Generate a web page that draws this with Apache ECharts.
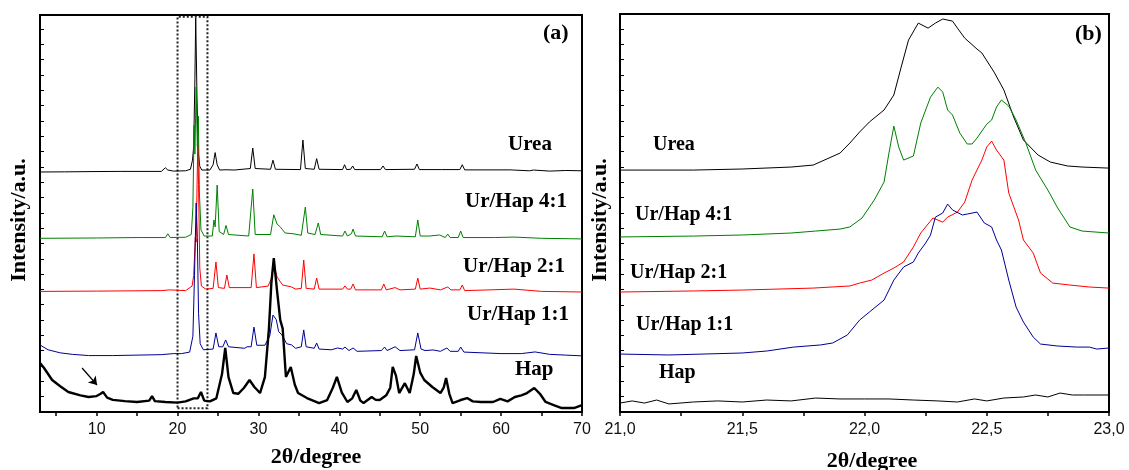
<!DOCTYPE html>
<html>
<head>
<meta charset="utf-8">
<script src="https://cdn.jsdelivr.net/npm/echarts@6/dist/echarts.min.js"></script>
<style>
html,body{margin:0;padding:0;background:#fff}
#chart{width:1129px;height:470px}
</style>
</head>
<body>
<div id="chart"></div>
<script>
// XRD patterns: (a) full 2θ scan, (b) detail of the 21–23° region.
// Intensities are in arbitrary units, each pattern shifted vertically.

const sampleNames = ['Urea', 'Ur/Hap 4:1', 'Ur/Hap 2:1', 'Ur/Hap 1:1', 'Hap'];
const sampleColors = ['#000000', '#008000', '#ff0000', '#000096', '#000000'];

// Panel (a) x tick labels and tick marks
const fullScanLabels = [10, 20, 30, 40, 50, 60, 70];
const fullScanTicks = [5, 10, 15, 20, 25, 30, 35, 40, 45, 50, 55, 60, 65, 70];
// Panel (b) x tick labels
const detailLabels = [21.0, 21.5, 22.0, 22.5, 23.0];
// window of panel (b) as outlined on panel (a)
const detailWindow = [20, 23.7];

// ---- panel (a): [2θ, intensity] ----
const ureaA = [[3,15.82],[6,15.83],[9.8,15.85],[10,15.8],[13,15.86],[18,15.86],[18.5,16.1],[18.8,15.95],[19.5,15.88],[21,15.9],[21.6,16.0],[21.85,16.6],[22.0,17.5],[22.15,22.0],[22.25,25.97],[22.4,21.0],[22.55,17.2],[22.75,16.2],[23,15.95],[24,15.95],[24.4,16.3],[24.65,17.1],[24.9,16.3],[25.2,15.95],[26,15.97],[27,15.95],[29,16.05],[29.3,17.4],[29.6,16.05],[31.5,16.0],[31.8,16.6],[32.1,16.0],[35.2,15.98],[35.5,17.93],[35.8,16.05],[36.9,16.0],[37.2,16.7],[37.5,16.0],[40.4,15.98],[40.65,16.3],[40.9,15.98],[41.4,16.0],[41.65,16.22],[41.9,15.98],[45.1,15.98],[45.4,16.22],[45.7,15.98],[49.3,16.0],[49.6,16.35],[49.9,15.98],[52.2,15.98],[52.4,16.1],[52.6,15.98],[54.9,15.98],[55.2,16.3],[55.5,15.96],[61.2,15.96],[61.35,16.05],[61.5,15.95],[63.5,15.9],[64,15.95],[66,15.88],[68,15.92],[70,15.9]];

const ur41A = [[3,11.45],[10,11.47],[15,11.5],[18.5,11.5],[18.8,11.75],[19.1,11.5],[21,11.52],[21.7,11.7],[21.9,13.5],[22.05,18.9],[22.15,17.0],[22.3,21.42],[22.45,17.5],[22.57,19.5],[22.7,14.5],[22.9,12.0],[23.3,11.6],[24.3,11.6],[24.5,12.66],[24.65,12.2],[24.9,14.96],[25.15,11.9],[25.7,11.7],[26.0,12.3],[26.3,11.7],[28.8,11.6],[29.3,14.7],[29.6,11.7],[31.5,11.7],[31.9,13.0],[32.3,12.4],[32.7,12.2],[33.3,11.8],[34.3,11.75],[35.3,11.65],[35.8,13.51],[36.1,11.8],[37.0,11.7],[37.4,12.46],[37.7,11.7],[40.4,11.6],[40.7,11.93],[41.0,11.6],[41.5,11.75],[41.7,12.06],[42.0,11.6],[45.3,11.55],[45.6,11.93],[45.9,11.55],[47,11.6],[49.4,11.55],[49.7,12.66],[50.0,11.6],[51.2,11.6],[52.4,11.67],[53.1,11.5],[53.4,11.73],[53.7,11.5],[54.7,11.5],[55.0,11.93],[55.3,11.5],[59.2,11.5],[61.6,11.53],[65,11.45],[70,11.41]];

const ur21A = [[3,7.95],[10,7.97],[18,8.0],[19,8.05],[21,8.0],[21.8,8.3],[22.0,9.0],[22.2,11.5],[22.3,11.2],[22.5,17.6],[22.6,15.0],[22.75,9.5],[22.95,8.3],[23.5,8.1],[24.4,8.15],[24.75,9.89],[25.05,8.2],[25.8,8.15],[26.1,9.03],[26.4,8.2],[29.1,8.2],[29.45,10.42],[29.75,8.2],[31.2,8.3],[31.6,8.8],[31.9,9.76],[32.3,8.9],[33.0,8.37],[34.1,8.24],[34.6,8.1],[35.3,8.15],[35.6,10.02],[35.9,8.15],[36.9,8.1],[37.2,8.83],[37.5,8.1],[40.4,8.1],[40.7,8.31],[41.0,8.1],[41.4,8.1],[41.7,8.44],[42.0,8.05],[45.2,8.05],[45.5,8.44],[45.8,8.05],[46.9,8.2],[47.5,8.05],[49.4,8.1],[49.7,8.83],[50.0,8.1],[51.2,8.17],[52.5,8.05],[53.4,8.24],[53.8,8.05],[54.9,8.05],[55.2,8.37],[55.5,8.0],[61.6,8.1],[65,7.95],[70,7.91]];

const ur11A = [[3,4.42],[4,4.1],[5.5,3.9],[7,3.8],[9,3.72],[12,3.72],[15,3.75],[18,3.78],[19.5,3.85],[20.5,3.85],[21.5,3.95],[21.9,5.0],[22.1,9.0],[22.3,13.78],[22.45,11.5],[22.6,6.5],[22.8,4.5],[23.2,4.1],[24.4,4.15],[24.75,5.21],[25.1,4.3],[25.6,4.3],[25.95,4.75],[26.3,4.3],[28.3,4.2],[28.6,4.3],[29.1,4.3],[29.45,5.6],[29.8,4.4],[30.8,4.4],[31.4,5.0],[31.8,6.39],[32.2,6.1],[32.5,5.3],[32.9,5.08],[33.5,4.5],[34.1,4.42],[34.6,4.2],[35.3,4.3],[35.6,5.41],[35.9,4.3],[36.9,4.2],[37.2,4.55],[37.5,4.15],[39.0,4.1],[39.8,4.22],[40.4,4.15],[40.7,4.28],[41.2,4.05],[41.7,4.22],[42.2,4.0],[45.2,4.05],[45.6,4.28],[45.9,4.05],[46.9,4.3],[47.5,4.05],[49.3,4.1],[49.7,5.21],[50.1,4.15],[50.6,4.05],[51.6,4.09],[52.5,4.0],[53.3,4.22],[53.7,4.0],[54.7,4.0],[55.0,4.28],[55.4,3.95],[60,3.85],[62.5,3.85],[64.2,3.96],[66,3.8],[68,3.75],[70,3.7]];

const hapA = [[3,3.23],[3.5,2.9],[4.5,2.11],[5.5,1.7],[6.5,1.32],[8,1.1],[9,0.99],[10,1.05],[10.5,1.2],[10.8,1.32],[11.3,0.95],[12,0.8],[13.5,0.72],[15,0.66],[16.5,0.75],[16.85,1.05],[17.2,0.72],[18.5,0.66],[20,0.62],[21,0.7],[22.0,0.9],[22.5,0.9],[22.9,1.32],[23.3,0.75],[24.0,0.7],[24.8,0.9],[25.5,2.5],[25.9,4.22],[26.3,2.3],[26.9,1.25],[27.5,1.2],[28.2,1.58],[28.9,2.11],[29.5,1.65],[30.2,1.25],[30.8,2.3],[31.3,5.5],[31.6,8.5],[31.9,10.15],[32.3,8.0],[32.7,6.06],[33.0,5.5],[33.4,2.31],[34.0,2.97],[34.5,1.8],[34.9,1.25],[36.0,0.92],[37.5,0.59],[38.5,0.79],[39.2,1.6],[39.7,2.31],[40.3,1.3],[41.0,0.66],[41.6,0.9],[42.1,1.45],[42.6,0.75],[43.0,0.59],[44.0,0.99],[44.5,0.8],[45.0,0.79],[45.8,1.1],[46.3,1.6],[46.6,2.97],[47.0,2.4],[47.4,1.25],[48.1,1.9],[48.7,1.25],[49.2,2.5],[49.5,3.69],[50.0,2.6],[50.5,2.11],[51.5,1.65],[52.5,1.25],[52.9,1.6],[53.2,2.24],[53.6,1.2],[54.0,0.59],[55.0,0.79],[55.8,0.92],[56.5,0.7],[57.5,0.66],[59,0.66],[59.9,0.86],[60.8,0.7],[61.7,0.99],[62.5,1.1],[63.2,1.25],[64.1,1.58],[64.8,1.2],[65.5,0.66],[66.5,0.46],[67.5,0.26],[69,0.26],[70,0.46]];

// arrow pointing at the weak Hap reflection near 10.8°
const hapArrow = [[8.2, 2.9], [10.05, 1.78]];

// ---- panel (b): [2θ, intensity] ----
const ureaB = [[21.0,15.95],[21.3,15.95],[21.5,16.02],[21.7,16.15],[21.79,16.28],[21.9,17.07],[21.94,17.73],[21.98,18.46],[22.02,19.12],[22.08,19.91],[22.12,20.9],[22.15,22.74],[22.18,24.52],[22.22,25.64],[22.26,25.31],[22.29,25.64],[22.32,25.91],[22.36,25.77],[22.38,25.31],[22.41,24.65],[22.46,23.93],[22.48,23.67],[22.53,22.41],[22.57,21.23],[22.61,19.45],[22.65,17.93],[22.71,16.94],[22.76,16.48],[22.83,16.22],[22.89,16.15],[23.0,16.08]];

const ur41B = [[21.0,11.54],[21.3,11.6],[21.5,11.67],[21.7,11.8],[21.8,11.93],[21.9,12.06],[21.94,12.2],[21.99,12.79],[22.04,13.98],[22.08,15.16],[22.1,17.07],[22.12,18.85],[22.14,17.47],[22.16,16.61],[22.2,16.88],[22.23,19.05],[22.27,20.76],[22.3,21.42],[22.32,21.09],[22.34,19.91],[22.36,19.58],[22.39,18.39],[22.42,17.67],[22.44,17.67],[22.46,18.06],[22.5,18.98],[22.52,19.25],[22.54,20.11],[22.56,20.57],[22.59,20.17],[22.62,19.25],[22.66,17.73],[22.7,15.95],[22.75,14.63],[22.79,13.45],[22.84,12.2],[22.89,11.93],[23.0,11.8]];

const ur21B = [[21.0,7.91],[21.3,7.98],[21.5,8.04],[21.79,8.17],[21.94,8.31],[21.98,8.5],[22.03,8.7],[22.08,9.16],[22.12,9.49],[22.16,9.89],[22.2,10.88],[22.23,11.8],[22.25,12.2],[22.28,12.79],[22.32,12.52],[22.34,12.85],[22.38,13.18],[22.41,13.84],[22.44,15.29],[22.48,16.61],[22.5,17.47],[22.52,17.86],[22.54,17.27],[22.57,16.61],[22.59,14.44],[22.63,12.66],[22.65,11.34],[22.69,10.48],[22.72,9.16],[22.77,8.5],[22.84,8.37],[22.92,8.24],[23.0,8.17]];

const ur11B = [[21.0,3.82],[21.2,3.76],[21.5,3.89],[21.6,4.02],[21.71,4.28],[21.82,4.42],[21.87,4.55],[21.93,5.08],[21.98,6.06],[22.02,6.59],[22.08,7.38],[22.12,8.7],[22.16,9.56],[22.2,9.89],[22.22,10.48],[22.25,11.14],[22.27,11.67],[22.29,12.85],[22.32,13.12],[22.34,13.71],[22.36,13.32],[22.4,12.99],[22.42,13.05],[22.46,13.18],[22.49,12.46],[22.52,12.2],[22.54,11.34],[22.56,10.68],[22.59,8.7],[22.62,6.92],[22.65,5.93],[22.69,4.94],[22.72,4.48],[22.79,4.35],[22.87,4.28],[22.92,4.28],[22.95,4.15],[23.0,4.22]];

const hapB = [[21.0,0.59],[21.05,0.73],[21.1,0.59],[21.15,0.79],[21.2,0.53],[21.3,0.66],[21.4,0.73],[21.5,0.66],[21.6,0.79],[21.7,0.73],[21.8,0.92],[21.9,0.86],[22.0,0.86],[22.1,0.86],[22.2,0.79],[22.3,0.73],[22.38,0.66],[22.45,0.86],[22.5,0.73],[22.57,0.92],[22.65,0.99],[22.7,1.12],[22.75,0.99],[22.8,1.25],[22.85,1.12],[22.9,1.12],[23.0,1.12]];

// ---- layout / style ----
const serif = '"Liberation Serif", "Times New Roman", serif';
const sans = '"Liberation Sans", Arial, sans-serif';
const yMaxA = 26.17, yMaxB = 26.24, yTickStep = 1.01;
const yTicks = [];
for (let k = 1; k * yTickStep < 26.1; k++) yTicks.push(+(k * yTickStep).toFixed(3));

function xAxisBase(gi) {
  return {
    gridIndex: gi, type: 'value',
    axisLine: { show: true, onZero: false, lineStyle: { color: '#000', width: 2 } },
    axisTick: { show: true, inside: false, length: 4, lineStyle: { color: '#000', width: 1.5 } },
    axisLabel: { fontFamily: sans, fontSize: 16, color: '#111', margin: 10 },
    splitLine: { show: false }
  };
}
function yAxisBase(gi, max) {
  return {
    gridIndex: gi, type: 'value', min: 0, max: max,
    axisLine: { show: true, onZero: false, lineStyle: { color: '#000', width: 2 } },
    axisTick: { show: true, inside: true, length: 4, customValues: yTicks, lineStyle: { color: '#000', width: 1 } },
    axisLabel: { show: false },
    splitLine: { show: false }
  };
}
function trace(idx, data, gi, width, extra) {
  return Object.assign({
    name: sampleNames[idx], type: 'line', xAxisIndex: gi, yAxisIndex: gi,
    data: data, showSymbol: false, symbol: 'none', silent: true,
    lineStyle: { color: sampleColors[idx], width: width },
    itemStyle: { color: sampleColors[idx] }
  }, extra || {});
}
function txt(text, x, y, size, align, rotation) {
  return {
    type: 'text', x: x, y: y, silent: true, rotation: rotation || 0,
    style: { text: text, font: 'bold ' + size + 'px ' + serif, fill: '#000', textAlign: align || 'left', textVerticalAlign: 'middle' }
  };
}

const chart = echarts.init(document.getElementById('chart'), null, { renderer: 'canvas' });

const axA = xAxisBase(0);
axA.min = 3; axA.max = 70;
axA.axisTick.customValues = fullScanTicks;
axA.axisLabel.customValues = fullScanLabels;

const axB = xAxisBase(1);
axB.min = 21; axB.max = 23; axB.interval = 0.5;
axB.minorTick = { show: true, splitNumber: 2, length: 4, lineStyle: { color: '#000', width: 1.5 } };
axB.axisLabel.customValues = detailLabels;
axB.axisLabel.formatter = v => v.toFixed(1).replace('.', ',');

chart.setOption({
  animation: false,
  backgroundColor: '#fff',
  grid: [
    { left: 40, top: 15, width: 542, height: 397, show: true, borderColor: '#000', borderWidth: 2, backgroundColor: 'transparent' },
    { left: 620, top: 14, width: 489, height: 398, show: true, borderColor: '#000', borderWidth: 2, backgroundColor: 'transparent' }
  ],
  xAxis: [axA, axB],
  yAxis: [yAxisBase(0, yMaxA), yAxisBase(1, yMaxB)],
  series: [
    trace(0, ureaA, 0, 1, {
      markArea: {
        silent: true,
        itemStyle: { color: 'rgba(0,0,0,0)', borderColor: '#222', borderWidth: 2, borderType: 'dotted' },
        label: { show: false },
        data: [[{ coord: [detailWindow[0], 0.25] }, { coord: [detailWindow[1], 26.05] }]]
      }
    }),
    trace(1, ur41A, 0, 1),
    trace(2, ur21A, 0, 1),
    trace(3, ur11A, 0, 1),
    trace(4, hapA, 0, 2.4, {
      markLine: {
        silent: true, symbol: ['none', 'arrow'], symbolSize: 8, animation: false,
        lineStyle: { color: '#000', width: 1.2, type: 'solid' },
        label: { show: false },
        data: [[{ coord: hapArrow[0] }, { coord: hapArrow[1] }]]
      }
    }),
    trace(0, ureaB, 1, 1),
    trace(1, ur41B, 1, 1),
    trace(2, ur21B, 1, 1),
    trace(3, ur11B, 1, 1),
    trace(4, hapB, 1, 1)
  ],
  graphic: [
    txt('(a)', 543, 33, 22),
    txt('(b)', 1075, 34, 22),
    txt(sampleNames[0], 508, 145, 21),
    txt(sampleNames[1], 465, 202, 21),
    txt(sampleNames[2], 463, 267, 21),
    txt(sampleNames[3], 467, 315, 21),
    txt(sampleNames[4], 515, 370, 21),
    txt(sampleNames[0], 653, 145, 20),
    txt(sampleNames[1], 635, 215, 20),
    txt(sampleNames[2], 630, 273, 20),
    txt(sampleNames[3], 636, 325, 20),
    txt(sampleNames[4], 659, 373, 20),
    txt('Intensity/a.u.', 19, 220, 22, 'center', Math.PI / 2),
    txt('Intensity/a.u.', 600, 220, 22, 'center', Math.PI / 2),
    txt('2θ/degree', 316, 457, 22, 'center'),
    txt('2θ/degree', 872, 461, 22, 'center')
  ]
});
</script>
</body>
</html>
